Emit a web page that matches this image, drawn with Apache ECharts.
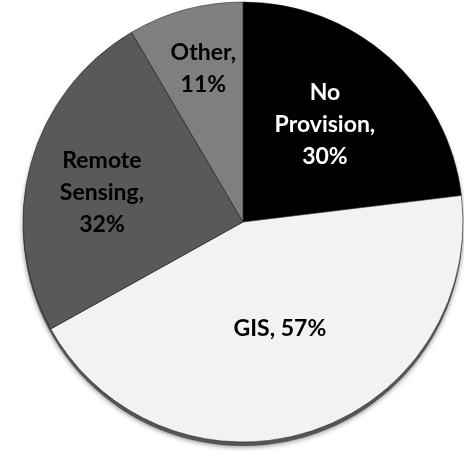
<!DOCTYPE html>
<html>
<head>
<meta charset="utf-8">
<script src="https://cdn.jsdelivr.net/npm/echarts@6/dist/echarts.min.js"></script>
<style>
html,body{margin:0;padding:0;background:#fff;}
#chart{width:464px;height:452px;}
</style>
</head>
<body>
<div id="chart"></div>
<script>
// Data
var categories = ['No Provision', 'GIS', 'Remote Sensing', 'Other'];
var values = [30, 57, 32, 11];

// Styling (not data)
var sliceColors = ['#000000', '#f2f2f2', '#595959', '#7f7f7f'];
var labelColors = ['#ffffff', '#000000', '#000000', '#000000'];
var labelSeparators = [',\n', ', ', ',\n', ',\n'];
var labelNameBreak = [true, false, true, false];
var labelShift = [[7, -13], [2, -1], [-32, 0], [-10, -44]];

var chart = echarts.init(document.getElementById('chart'), null, {renderer: 'canvas'});

var pieData = categories.map(function (c, i) {
  return {
    name: c,
    value: values[i],
    itemStyle: {color: sliceColors[i]},
    label: {color: labelColors[i]}
  };
});

var center = [243, 222];
var radius = 220;

chart.setOption({
  animation: false,
  series: [
    {
      type: 'pie',
      silent: true,
      center: [center[0], center[1] + 4],
      radius: radius,
      startAngle: 90,
      label: {show: false},
      labelLine: {show: false},
      itemStyle: {
        color: '#555555',
        shadowColor: 'rgba(0,0,0,0.45)',
        shadowBlur: 5,
        shadowOffsetY: 1
      },
      data: [{name: '', value: 1}],
      z: 1
    },
    {
      type: 'pie',
      center: center,
      radius: radius,
      startAngle: 90,
      clockwise: true,
      z: 2,
      itemStyle: {
        borderColor: 'rgba(30,30,30,0.7)',
        borderWidth: 0.8
      },
      label: {
        show: true,
        position: 'inside',
        fontFamily: 'Lato',
        fontWeight: 'bold',
        fontSize: 23,
        lineHeight: 32,
        align: 'center',
        formatter: function (p) {
          var i = p.dataIndex;
          var n = labelNameBreak[i] ? p.name.replace(' ', '\n') : p.name;
          return n + labelSeparators[i] + p.value + '%';
        }
      },
      labelLayout: function (p) {
        var s = labelShift[p.dataIndex];
        return {dx: s[0], dy: s[1]};
      },
      labelLine: {show: false},
      data: pieData
    }
  ]
});
</script>
</body>
</html>
